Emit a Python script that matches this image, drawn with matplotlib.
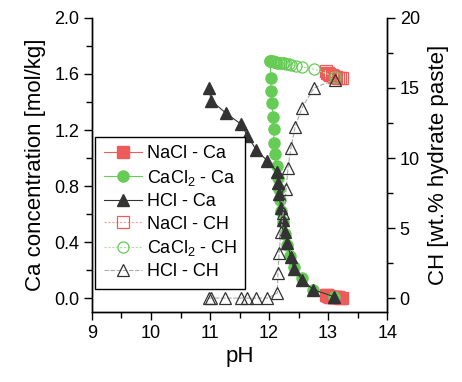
import matplotlib
matplotlib.use("Agg")
import matplotlib.pyplot as plt
from matplotlib.ticker import MultipleLocator, FormatStrFormatter

plt.rcParams['font.family'] = ['Liberation Sans', 'DejaVu Sans']
plt.rcParams['mathtext.default'] = 'regular'

# ---- data ----
nacl_ph = [12.96, 12.98, 13.00, 13.02, 13.04, 13.06, 13.08, 13.10, 13.12, 13.14, 13.17, 13.20, 13.23]
nacl_ca = [0.02, 0.02, 0.015, 0.015, 0.01, 0.01, 0.01, 0.01, 0.005, 0.005, 0.005, 0.0, 0.0]
nacl_ch = [16.2, 16.1, 16.05, 16.0, 15.95, 15.9, 15.85, 15.8, 15.8, 15.75, 15.7, 15.7, 15.7]

cacl2_ca_ph = [12.02, 12.03, 12.03, 12.05, 12.07, 12.08, 12.08, 12.10, 12.13, 12.15, 12.17,
               12.19, 12.21, 12.24, 12.27, 12.30, 12.35, 12.42, 12.55, 12.75, 13.10]
cacl2_ca = [1.69, 1.57, 1.48, 1.39, 1.29, 1.21, 1.11, 1.03, 0.94, 0.86, 0.78,
            0.70, 0.62, 0.54, 0.46, 0.38, 0.30, 0.22, 0.14, 0.06, 0.01]

cacl2_ch_ph = [12.02, 12.04, 12.06, 12.08, 12.10, 12.12, 12.14, 12.17, 12.20, 12.23, 12.26,
               12.29, 12.33, 12.37, 12.45, 12.56, 12.76, 13.12]
cacl2_ch = [16.9, 16.9, 16.9, 16.85, 16.85, 16.85, 16.8, 16.8, 16.8, 16.75, 16.75,
            16.7, 16.7, 16.65, 16.6, 16.5, 16.35, 15.8]

hcl_ca_ph = [10.98, 11.02, 11.27, 11.53, 11.63, 11.78, 11.97, 12.14, 12.15, 12.17,
             12.20, 12.24, 12.27, 12.31, 12.37, 12.42, 12.56, 12.75, 13.10]
hcl_ca = [1.50, 1.41, 1.32, 1.24, 1.16, 1.06, 0.98, 0.90, 0.82, 0.74,
          0.64, 0.56, 0.47, 0.39, 0.29, 0.21, 0.13, 0.06, 0.01]

hcl_ch_ph = [10.98, 11.02, 11.26, 11.52, 11.62, 11.78, 11.97, 12.14, 12.15, 12.17,
             12.20, 12.24, 12.29, 12.32, 12.37, 12.44, 12.56, 12.76, 13.12]
hcl_ch = [0.0, 0.0, 0.0, 0.0, 0.0, 0.0, 0.0, 0.35, 1.8, 3.2,
          4.7, 6.1, 7.8, 9.3, 10.7, 12.2, 13.6, 15.0, 15.6]

red = '#EE5B5B'
green = '#66CC55'
dark = '#333333'

fig = plt.figure(figsize=(4.62, 3.82), dpi=100)
ax = fig.add_axes([0.199, 0.183, 0.639, 0.770])
ax2 = ax.twinx()

ms = 8
h1, = ax.plot(nacl_ph, nacl_ca, '-s', color=red, ms=ms, lw=0.8, mec=red, label='NaCl - Ca')
h2, = ax.plot(cacl2_ca_ph, cacl2_ca, '-o', color=green, ms=ms, lw=0.8, mec=green, label='CaCl$_2$ - Ca')
h3, = ax.plot(hcl_ca_ph, hcl_ca, '-^', color=dark, ms=ms + 1, lw=0.8, mec=dark, label='HCl - Ca')

h4, = ax2.plot(nacl_ph, nacl_ch, 's', ls=(0, (2, 1.5)), color='#F4A0A0', ms=ms, lw=0.8,
               mfc='none', mec=red, mew=0.9, label='NaCl - CH')
h5, = ax2.plot(cacl2_ch_ph, cacl2_ch, 'o', ls=(0, (2, 1.5)), color='#A8E0A0', ms=ms, lw=0.8,
               mfc='none', mec=green, mew=0.9, label='CaCl$_2$ - CH')
h6, = ax2.plot(hcl_ch_ph, hcl_ch, '^', ls=(0, (4, 1.5)), color='#AAAAAA', ms=ms + 1, lw=0.8,
               mfc='none', mec=dark, mew=0.9, label='HCl - CH')

ax.set_xlim(9, 14)
ax.set_ylim(-0.1, 2.0)
ax2.set_ylim(-1, 20)

ax.xaxis.set_major_locator(MultipleLocator(1))
ax.xaxis.set_minor_locator(MultipleLocator(0.5))
ax.yaxis.set_major_locator(MultipleLocator(0.4))
ax.yaxis.set_minor_locator(MultipleLocator(0.2))
ax2.yaxis.set_major_locator(MultipleLocator(5))
ax2.yaxis.set_minor_locator(MultipleLocator(2.5))
ax.yaxis.set_major_formatter(FormatStrFormatter('%.1f'))

for a in (ax, ax2):
    a.spines['top'].set_visible(False)
    for s in a.spines.values():
        s.set_linewidth(1.0)
    a.tick_params(which='both', direction='out', width=1.0, labelsize=13)
    a.tick_params(which='major', length=5.5)
    a.tick_params(which='minor', length=4.5)

ax.set_xlabel('pH', fontsize=16, labelpad=3)
ax.set_ylabel('Ca concentration [mol/kg]', fontsize=16, labelpad=6)
ax2.set_ylabel('CH [wt.% hydrate paste]', fontsize=16, labelpad=6)

leg = ax2.legend(handles=[h1, h2, h3, h4, h5, h6], loc='lower left',
                 bbox_to_anchor=(0.012, 0.08), borderaxespad=0, fontsize=13,
                 handlelength=2.1, handletextpad=0.3, labelspacing=0.3,
                 borderpad=0.45, fancybox=False, edgecolor='black', framealpha=1)
leg.get_frame().set_linewidth(1.0)

fig.savefig('out.png', dpi=100)
